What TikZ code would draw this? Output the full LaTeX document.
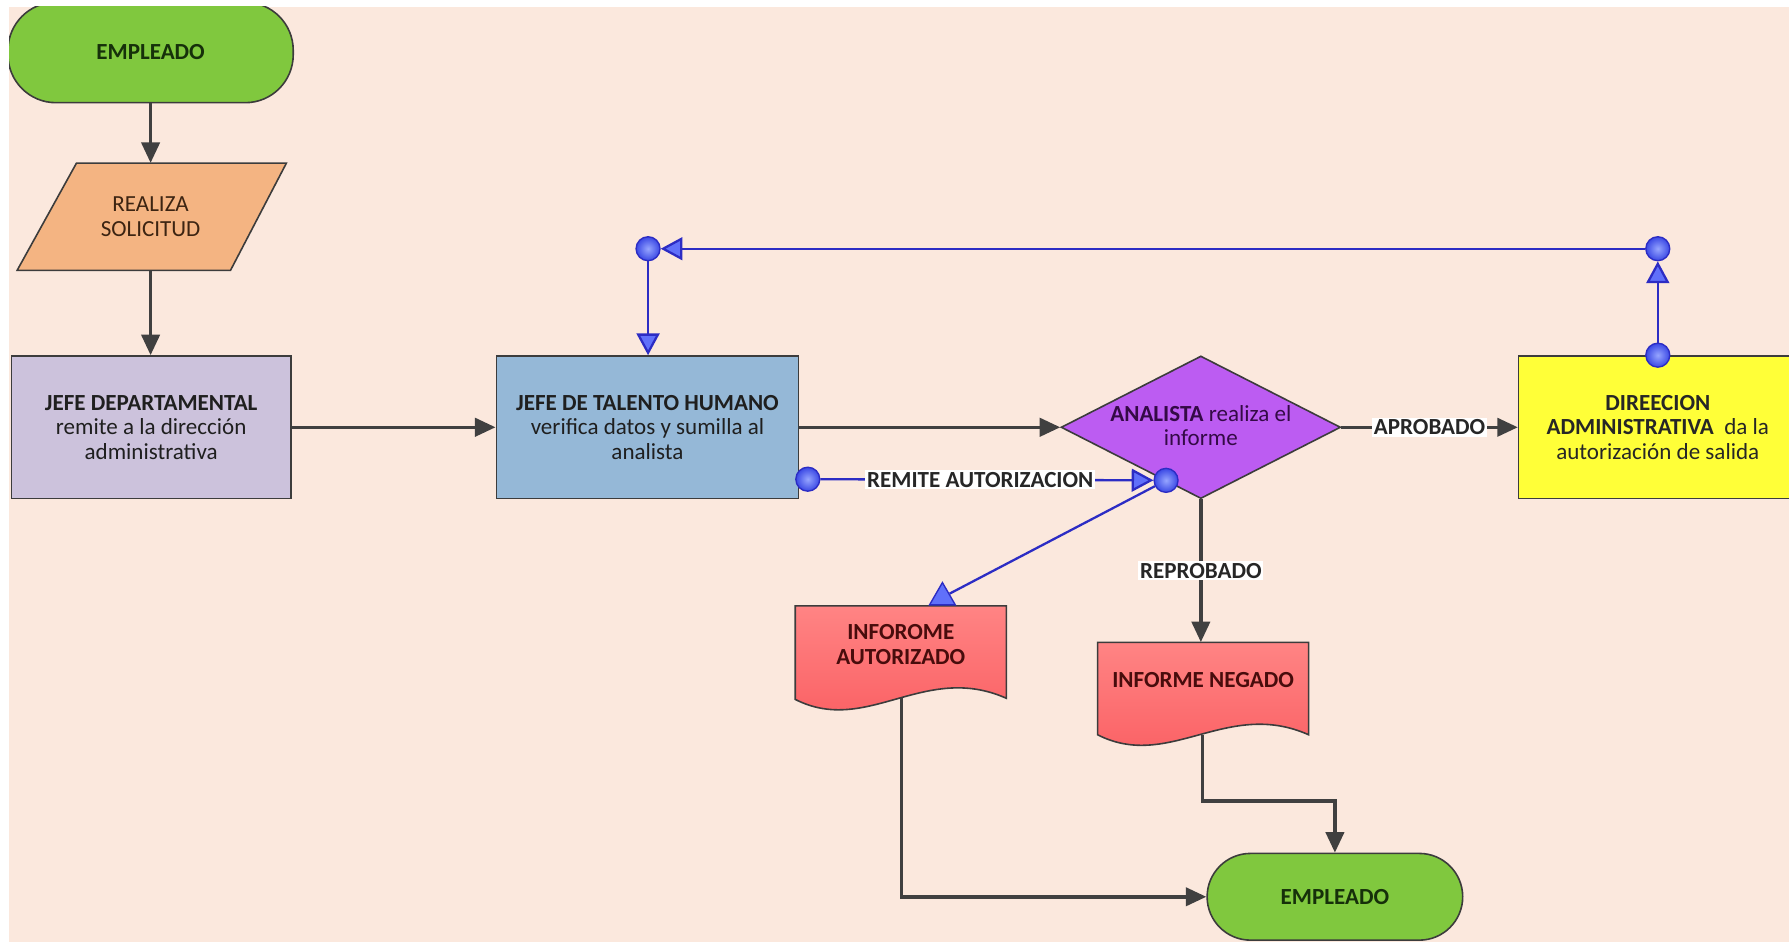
\documentclass[tikz,border=0pt]{standalone}
\usepackage{fontspec}
\setmainfont{Carlito}
\usetikzlibrary{arrows.meta,shapes.geometric}

\definecolor{paper}{RGB}{251,232,221}
\definecolor{ink}{RGB}{64,64,64}
\definecolor{edge}{RGB}{60,60,60}
\definecolor{termfill}{RGB}{128,200,62}
\definecolor{termtext}{RGB}{22,48,10}
\definecolor{parafill}{RGB}{244,180,130}
\definecolor{paratext}{RGB}{60,36,18}
\definecolor{lavfill}{RGB}{204,194,220}
\definecolor{bluefill}{RGB}{149,184,215}
\definecolor{purplefill}{RGB}{188,92,242}
\definecolor{purpletext}{RGB}{52,10,70}
\definecolor{yellowfill}{RGB}{255,255,56}
\definecolor{doctop}{RGB}{255,132,132}
\definecolor{docbot}{RGB}{250,92,96}
\definecolor{doctext}{RGB}{72,12,12}
\definecolor{linkblue}{RGB}{44,44,196}
\definecolor{dotin}{RGB}{150,165,255}
\definecolor{dotout}{RGB}{58,72,228}
\definecolor{tipfill}{RGB}{96,112,250}

\newcommand\nodefont{\fontsize{20.2}{21.5}\selectfont}

\tikzset{
  shapebase/.style={draw=edge, line width=1.4pt, align=center, inner sep=0pt,
    font=\nodefont, text=black!88},
  terminal/.style={shapebase, fill=termfill, text=termtext, rounded corners=42pt},
  procbox/.style={shapebase, rectangle},
  docpath/.style={draw=edge, line width=1.4pt, top color=doctop, bottom color=docbot},
  doctxt/.style={font={\nodefont\bfseries}, text=doctext, align=center, inner sep=0pt},
  flow/.style={draw=ink, line width=3pt, -{Triangle[length=18pt,width=16pt]}},
  bluelink/.style={draw=linkblue, line width=2pt},
  bluetip/.style={bluelink, -{Triangle[length=19pt,width=20pt,fill=tipfill]}},
  joint/.style={circle, draw=linkblue, line width=1.2pt, inner color=dotin,
    outer color=dotout, minimum size=21pt, inner sep=0pt},
  flowlabel/.style={fill=white, inner sep=1.5pt, font={\nodefont\bfseries}, text=black!85}
}

\begin{document}
\begin{tikzpicture}[x=1pt,y=-1pt]
\useasboundingbox (0,0) rectangle (1568,826);
\fill[white] (0,0) rectangle (1568,826);
\fill[paper] (8,6) rectangle (1568,826);
\begin{scope}
\clip (8,6) rectangle (1568,826);

% start terminal
\node[terminal, minimum width=250pt, minimum height=88pt] (emp1) at (132,46) {\textbf{EMPLEADO}};

% input / output parallelogram
\filldraw[draw=edge, line width=1.4pt, fill=parafill] (67,143) -- (251,143) -- (202,237) -- (15,237) -- cycle;
\node[font=\nodefont, text=paratext, align=center, minimum height=94pt, inner sep=0pt] (sol) at (132,190) {REALIZA\\SOLICITUD};

% process boxes
\node[procbox, fill=lavfill, minimum width=245pt, minimum height=125pt] (jdep) at (132.5,374.5)
  {\textbf{JEFE DEPARTAMENTAL}\\remite a la dirección\\administrativa};
\node[procbox, fill=bluefill, minimum width=265pt, minimum height=125pt] (jth) at (567.5,374.5)
  {\textbf{JEFE DE TALENTO HUMANO}\\verifica datos y sumilla al\\analista};

% decision
\node[diamond, aspect=1.96, draw=edge, line width=1.4pt, fill=purplefill,
  minimum width=245pt, minimum height=125pt, inner sep=0pt] (ana) at (1052.5,374.5) {};
\node[font=\nodefont, text=purpletext, align=center, inner sep=0pt] (anatext) at (1052.5,373)
  {\textbf{ANALISTA} realiza el\\informe};

\node[procbox, fill=yellowfill, minimum width=244pt, minimum height=125pt, text=black!85] (dir) at (1453,374.5)
  {\textbf{DIREECION}\\\textbf{ADMINISTRATIVA}\ \ da la\\autorización de salida};

% documents
\path[docpath] (697,531) -- (882,531) -- (882,612) .. controls (810,580) and (760,645) .. (697,613) -- cycle;
\node[doctxt, minimum width=185pt, minimum height=68pt] (aut) at (789.5,565) {INFOROME\\AUTORIZADO};
\coordinate (autB) at (790,612);

\path[docpath] (962,563) -- (1147,563) -- (1147,644) .. controls (1075,612) and (1025,676) .. (962,644) -- cycle;
\node[doctxt, minimum width=185pt, minimum height=66pt] (neg) at (1054.5,596) {INFORME NEGADO};
\coordinate (negB) at (1054,644);

% end terminal
\node[terminal, minimum width=224pt, minimum height=76pt, rounded corners=38pt] (emp2) at (1170,786) {\textbf{EMPLEADO}};

% main flow
\draw[flow] (emp1.south) -- (emp1.south |- sol.north);
\draw[flow] (sol.south) -- (sol.south |- jdep.north);
\draw[flow] (jdep) -- (jth);
\draw[flow] (jth) -- (ana);
\draw[flow] (ana) -- node[flowlabel]{APROBADO} (dir);
\draw[flow] (ana.south) -- node[flowlabel]{REPROBADO} (ana.south |- neg.north);
\draw[flow] (autB) |- (emp2.west);
\draw[flow] (negB) -- ++(0,58) -| (emp2.north);

% return links
\node[joint] (d1) at (dir.north) {};
\node[joint] (d2) at (1453,218) {};
\node[joint] (d3) at (568,218) {};
\node[joint] (d4) at (708,420) {};
\node[joint] (d5) at (1022,421) {};
\node[regular polygon, regular polygon sides=3, minimum size=26pt, inner sep=0pt,
  draw=linkblue, line width=1.2pt, fill=tipfill] (tri) at (826,523.6) {};

\draw[bluetip] (d1) -- (d2);
\draw[bluetip] (d2) -- (d3);
\draw[bluetip] (d3) -- (d3 |- jth.north);
\draw[bluetip] (d4) -- node[flowlabel, pos=0.48]{REMITE AUTORIZACION} (d5);
\draw[bluelink] (d5) -- (tri);
\end{scope}
\end{tikzpicture}
\end{document}
